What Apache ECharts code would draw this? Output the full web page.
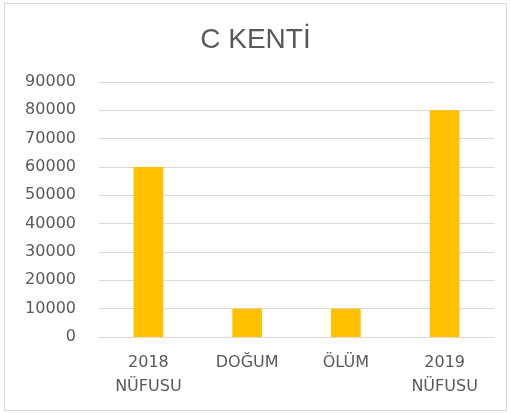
<!DOCTYPE html>
<html>
<head>
<meta charset="utf-8">
<script src="https://cdn.jsdelivr.net/npm/echarts@6/dist/echarts.min.js"></script>
<style>
html,body{margin:0;padding:0;background:#fff;}
#frame{position:absolute;left:4px;top:3px;width:503px;height:408px;border:1px solid #d9d9d9;box-sizing:border-box;}
#chart{position:absolute;left:0;top:0;width:511px;height:414px;}
</style>
</head>
<body>
<div id="frame"></div>
<div id="chart"></div>
<script>
var categories = ['2018\nNÜFUSU', 'DOĞUM', 'ÖLÜM', '2019\nNÜFUSU'];
var values = [60000, 10000, 10000, 80000];
var yTicks = [0, 10000, 20000, 30000, 40000, 50000, 60000, 70000, 80000, 90000];

var myChart = echarts.init(document.getElementById('chart'));
myChart.setOption({
    animation: false,
    title: {
        text: 'C KENTİ',
        left: 'center',
        top: 21,
        textStyle: {
            color: '#595959',
            fontSize: 28,
            fontWeight: 'normal',
            fontFamily: 'Liberation Sans'
        }
    },
    grid: {
        left: 99,
        right: 17,
        top: 82,
        bottom: 77
    },
    xAxis: {
        type: 'category',
        data: categories,
        axisTick: {show: false},
        axisLine: {lineStyle: {color: '#d9d9d9'}},
        axisLabel: {
            color: '#595959',
            fontSize: 16,
            fontFamily: 'DejaVu Sans',
            margin: 14,
            lineHeight: 24
        }
    },
    yAxis: {
        type: 'value',
        min: yTicks[0],
        max: yTicks[yTicks.length - 1],
        interval: 10000,
        axisLine: {show: false},
        axisTick: {show: false},
        splitLine: {lineStyle: {color: '#d9d9d9'}},
        axisLabel: {
            color: '#595959',
            fontSize: 16,
            fontFamily: 'DejaVu Sans',
            margin: 23,
            formatter: function (v) { return String(v); }
        }
    },
    series: [{
        type: 'bar',
        data: values,
        barWidth: '30%',
        itemStyle: {color: '#FFC000'}
    }]
});
</script>
</body>
</html>
